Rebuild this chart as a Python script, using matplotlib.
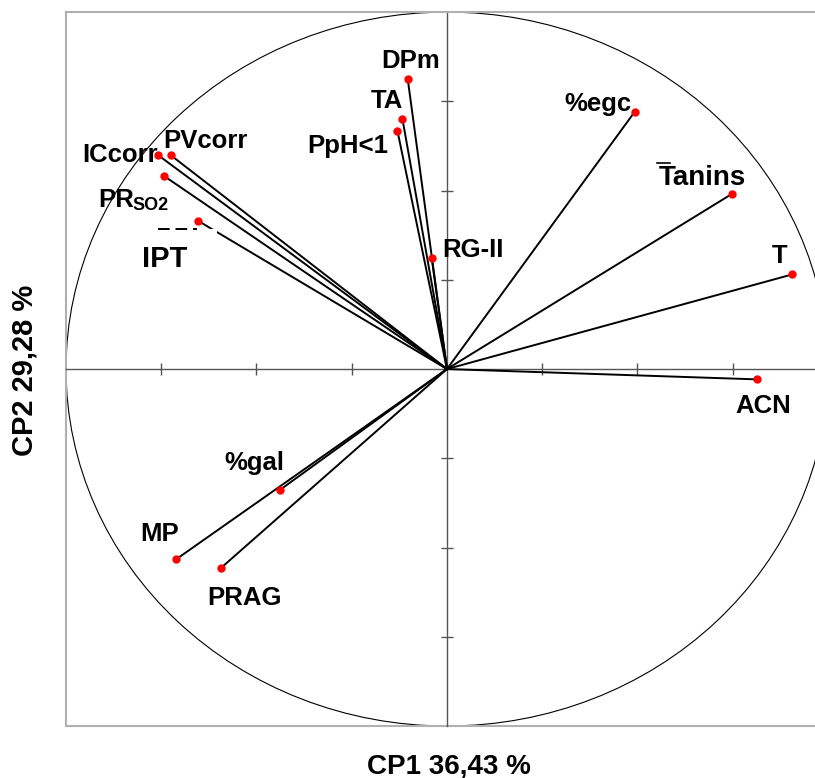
"""Correlation circle (CP1 x CP2) for the phenolic / wine-composition PCA."""
import matplotlib.pyplot as plt
from matplotlib.patches import Circle, Rectangle

plt.rcParams["font.family"] = ["Liberation Sans", "DejaVu Sans"]
plt.rcParams["font.weight"] = "bold"

VARIABLES = ["DPm", "TA", "PpH<1", "ICcorr", "PVcorr", "PR", "IPT", "RG-II",
             "%egc", "Tanins", "T", "ACN", "%gal", "MP", "PRAG"]
CP1 = [-0.103, -0.117, -0.130, -0.758, -0.725, -0.743, -0.653, -0.040,
       0.493, 0.747, 0.906, 0.815, -0.439, -0.711, -0.593]
CP2 = [0.812, 0.701, 0.667, 0.599, 0.599, 0.541, 0.415, 0.310,
       0.721, 0.490, 0.265, -0.029, -0.339, -0.533, -0.557]

X_LABEL = "CP1 36,43 %"
Y_LABEL = "CP2 29,28 %"
TICKS = [-0.75, -0.5, -0.25, 0.25, 0.5, 0.75]

# label placement: offset in pixels from the point, text centred on baseline
LABEL_OFFSET = {
    "DPm": (3, 11), "TA": (-15, 11), "PpH<1": (-50, -22), "ICcorr": (-38, -7),
    "PVcorr": (35, 7), "IPT": (-34, -46), "RG-II": (41, 1), "%egc": (-37, 1),
    "Tanins": (-29, 9), "T": (-13, 11), "ACN": (6, -34), "%gal": (-25, 20),
    "MP": (-16, 18), "PRAG": (23, -37),
}
LABEL_SIZE = {"IPT": 21, "Tanins": 20}

fig = plt.figure(figsize=(8.15, 7.78), dpi=100)
ax = fig.add_axes([0.081, 0.0668, 0.919, 0.9177])
ax.set_xlim(-1, 0.966)
ax.set_ylim(-1, 1)

# axes cross through the origin, frame in light grey
for side in ("left", "bottom"):
    ax.spines[side].set_position("zero")
    ax.spines[side].set_color("#555555")
    ax.spines[side].set_linewidth(1.0)
ax.spines["right"].set_visible(False)
ax.spines["top"].set_color("#b0b0b0")
ax.spines["top"].set_linewidth(1.5)
for xs, ys in (([0, 0], [0, 1]), ([0, 1], [0, 0])):
    ax.plot(xs, ys, transform=ax.transAxes, color="#b0b0b0", lw=1.5, clip_on=False)
ax.set_xticks(TICKS)
ax.set_yticks(TICKS)
ax.tick_params(direction="inout", length=8, width=1, color="#555555",
               labelbottom=False, labelleft=False)

ax.add_patch(Circle((0, 0), 1, fill=False, color="black", lw=0.8))

for x, y in zip(CP1, CP2):
    ax.plot([0, x], [0, y], color="black", lw=1.4, zorder=3)
ax.plot(CP1, CP2, "o", color="red", ms=5, zorder=4)

# white box left over from the original IPT label, with its dashed top edge
ax.add_patch(Rectangle((-0.7585, 0.263), 0.155, 0.128, facecolor="white",
                       edgecolor="none", zorder=5))
ax.plot([-0.7585, -0.656], [0.391, 0.391], color="black", lw=1.4,
        dashes=(6, 3), zorder=6)
ax.plot([0.551, 0.585], [0.576, 0.576], color="black", lw=1.2, zorder=6)

for name, x, y in zip(VARIABLES, CP1, CP2):
    if name == "PR":
        ax.annotate("PR", (x, y), xytext=(-66, -31), textcoords="offset pixels",
                    ha="left", va="baseline", fontsize=18.5, zorder=7)
        ax.annotate("SO2", (x, y), xytext=(-31, -34), textcoords="offset pixels",
                    ha="left", va="baseline", fontsize=13, zorder=7)
        continue
    ax.annotate(name, (x, y), xytext=LABEL_OFFSET[name], textcoords="offset pixels",
                ha="center", va="baseline", fontsize=LABEL_SIZE.get(name, 18.5),
                zorder=7)

fig.text(449 / 815, 5 / 778, X_LABEL, ha="center", va="baseline", fontsize=20)
fig.text(25 / 815, 408 / 778, Y_LABEL, ha="center", va="center", rotation=90,
         fontsize=21)

fig.savefig("out.png", dpi=100)
